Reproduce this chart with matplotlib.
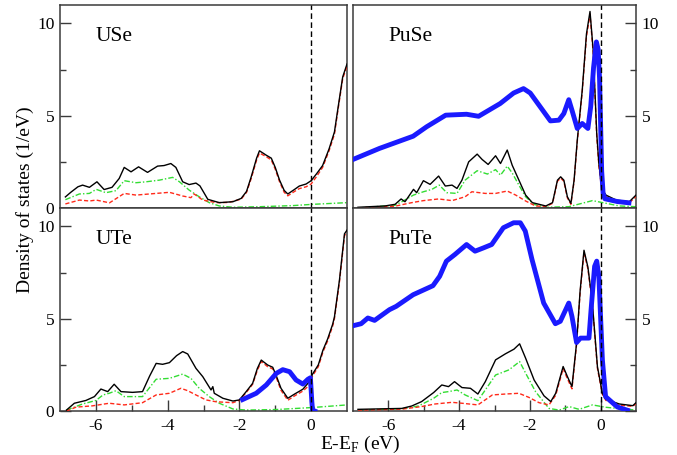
import matplotlib
matplotlib.use("Agg")
import matplotlib.pyplot as plt

plt.rcParams['font.family'] = ['Liberation Serif', 'DejaVu Serif']
plt.rcParams['mathtext.fontset'] = 'custom'
plt.rcParams['mathtext.rm'] = 'Liberation Serif'

# ---------------- data ----------------
x_ticks = [-6, -4, -2, 0]
x_tick_labels = ["-6", "-4", "-2", "0"]
x_minor = [-5, -3, -1]
y_ticks = [0, 5, 10]
y_tick_labels = ["0", "5", "10"]
y_minor = [2.5, 7.5]

# USe
use_tot_e = [-6.85, -6.7, -6.5, -6.37, -6.18, -5.97, -5.77, -5.55, -5.35, -5.21, -5.02, -4.81, -4.56, -4.28, -4.1, -3.91, -3.77, -3.58, -3.4, -3.21, -3.1, -2.88, -2.56, -2.18, -1.95, -1.8, -1.67, -1.52, -1.44, -1.25, -1.11, -1.0, -0.88, -0.75, -0.65, -0.46, -0.33, -0.14, 0.0, 0.15, 0.32, 0.5, 0.65, 0.74, 0.88, 1.0]
use_tot = [0.6, 0.85, 1.15, 1.24, 1.12, 1.42, 1.0, 1.12, 1.6, 2.2, 1.96, 2.23, 1.93, 2.27, 2.3, 2.41, 2.2, 1.42, 1.27, 1.35, 1.2, 0.47, 0.29, 0.34, 0.52, 0.9, 1.69, 2.7, 3.1, 2.86, 2.7, 2.2, 1.51, 0.95, 0.76, 1.01, 1.19, 1.3, 1.48, 1.85, 2.3, 3.2, 4.12, 5.3, 7.1, 7.8]
use_f_e = [-6.85, -6.46, -6.18, -5.99, -5.62, -5.21, -4.88, -4.51, -3.95, -3.58, -3.35, -3.26, -3.02, -2.65, -2.3, -1.95, -1.8, -1.67, -1.52, -1.44, -1.25, -1.11, -1.0, -0.88, -0.75, -0.65, -0.46, -0.33, -0.14, 0.0, 0.15, 0.32, 0.5, 0.65, 0.74, 0.88, 1.0]
use_f = [0.22, 0.43, 0.38, 0.43, 0.28, 0.79, 0.7, 0.76, 0.85, 0.65, 0.56, 0.76, 0.43, 0.29, 0.3, 0.48, 0.85, 1.6, 2.6, 2.98, 2.78, 2.6, 2.1, 1.42, 0.85, 0.66, 0.9, 1.05, 1.15, 1.3, 1.7, 2.2, 3.1, 4.0, 5.2, 7.0, 7.7]
use_p_e = [-6.85, -6.46, -6.18, -5.99, -5.72, -5.44, -5.21, -4.88, -4.6, -4.23, -3.86, -3.67, -3.4, -3.12, -2.84, -2.56, -2.18, -1.44, -0.51, 0.05, 1.0]
use_p = [0.45, 0.76, 0.79, 1.01, 0.83, 0.94, 1.48, 1.37, 1.42, 1.51, 1.66, 1.42, 0.97, 0.61, 0.29, 0.11, 0.04, 0.07, 0.13, 0.2, 0.29]

# UTe
ute_tot_e = [-6.82, -6.6, -6.28, -6.04, -5.86, -5.67, -5.49, -5.3, -4.98, -4.7, -4.5, -4.32, -4.14, -3.95, -3.75, -3.58, -3.44, -3.21, -3.02, -2.79, -2.74, -2.7, -2.46, -2.18, -2.0, -1.81, -1.63, -1.5, -1.39, -1.21, -1.07, -0.95, -0.84, -0.65, -0.46, -0.23, -0.05, 0.04, 0.2, 0.33, 0.46, 0.6, 0.65, 0.79, 0.93, 1.0]
ute_tot = [0.05, 0.42, 0.57, 0.78, 1.19, 1.05, 1.45, 1.05, 1.01, 1.05, 1.9, 2.58, 2.53, 2.62, 3.0, 3.22, 3.09, 2.31, 1.86, 1.14, 1.32, 0.96, 0.69, 0.54, 0.6, 1.05, 1.5, 2.3, 2.76, 2.49, 2.37, 1.8, 1.23, 0.69, 0.92, 1.18, 1.59, 2.0, 2.5, 3.3, 3.9, 4.7, 5.1, 7.1, 9.6, 9.8]
ute_f_e = [-6.82, -6.55, -6.09, -5.63, -5.21, -4.7, -4.32, -3.95, -3.63, -3.44, -3.21, -2.93, -2.65, -2.18, -2.0, -1.81, -1.63, -1.5, -1.39, -1.21, -1.07, -0.95, -0.84, -0.65, -0.46, -0.23, -0.05, 0.04, 0.2, 0.33, 0.46, 0.6, 0.65, 0.79, 0.93, 1.0]
ute_f = [0.0, 0.21, 0.28, 0.42, 0.33, 0.45, 0.87, 0.96, 1.23, 1.1, 0.87, 0.6, 0.5, 0.45, 0.58, 1.0, 1.45, 2.2, 2.68, 2.4, 2.28, 1.7, 1.12, 0.58, 0.82, 1.08, 1.4, 1.9, 2.4, 3.2, 3.8, 4.6, 5.0, 7.0, 9.5, 9.7]
ute_p_e = [-6.82, -6.37, -6.0, -5.8, -5.63, -5.44, -5.21, -4.7, -4.32, -3.95, -3.58, -3.35, -3.12, -2.84, -2.56, -2.18, -1.81, -0.97, 0.05, 1.0]
ute_p = [0.05, 0.38, 0.57, 0.87, 0.96, 1.1, 0.78, 0.78, 1.72, 1.77, 2.0, 1.77, 1.23, 0.78, 0.42, 0.11, 0.05, 0.08, 0.19, 0.33]
ute_exp_e = [-1.91, -1.53, -1.25, -0.97, -0.79, -0.6, -0.42, -0.23, -0.09, -0.02, 0.02, 0.04, 0.1]
ute_exp = [0.62, 0.96, 1.41, 2.04, 2.24, 2.13, 1.68, 1.46, 1.72, 1.8, 0.5, 0.05, 0.0]

# PuSe
puse_tot_e = [-6.86, -6.1, -5.81, -5.64, -5.53, -5.29, -5.2, -5.01, -4.82, -4.58, -4.39, -4.2, -4.06, -3.92, -3.73, -3.49, -3.35, -3.18, -2.97, -2.83, -2.64, -2.5, -2.31, -2.12, -1.93, -1.55, -1.36, -1.22, -1.13, -1.04, -0.94, -0.84, -0.75, -0.66, -0.52, -0.4, -0.3, -0.21, -0.11, -0.05, 0.0, 0.06, 0.15, 0.44, 0.81, 1.0]
puse_tot = [0.04, 0.11, 0.2, 0.49, 0.34, 1.01, 0.83, 1.48, 1.28, 1.73, 1.19, 1.24, 1.06, 1.51, 2.5, 2.92, 2.63, 2.36, 2.83, 2.41, 3.14, 2.32, 1.51, 0.7, 0.29, 0.11, 0.29, 1.51, 1.69, 1.51, 0.61, 0.25, 1.51, 3.68, 6.38, 9.44, 10.65, 8.54, 4.04, 2.41, 1.6, 0.97, 0.7, 0.43, 0.34, 0.7]
puse_f_e = [-6.86, -5.81, -5.34, -5.01, -4.58, -4.2, -3.83, -3.64, -3.26, -2.97, -2.64, -2.4, -2.12, -1.84, -1.55, -1.36, -1.22, -1.13, -1.04, -0.94, -0.84, -0.75, -0.66, -0.52, -0.4, -0.3, -0.21, -0.11, -0.05, 0.0, 0.06, 0.15, 0.44, 0.81, 1.0]
puse_f = [0.0, 0.1, 0.29, 0.4, 0.49, 0.4, 0.61, 0.88, 0.79, 0.79, 0.92, 0.7, 0.38, 0.11, 0.08, 0.25, 1.45, 1.62, 1.45, 0.55, 0.2, 1.45, 3.6, 6.3, 9.3, 10.5, 8.4, 3.9, 2.3, 1.5, 0.9, 0.62, 0.36, 0.28, 0.62]
puse_p_e = [-6.86, -5.81, -5.62, -5.29, -5.01, -4.77, -4.56, -4.35, -4.06, -3.83, -3.49, -3.2, -2.97, -2.83, -2.64, -2.5, -2.31, -2.12, -1.89, -1.55, -0.9, -0.23, 0.06, 0.53, 1.0]
puse_p = [0.0, 0.15, 0.34, 0.7, 0.88, 1.01, 1.24, 0.83, 0.79, 1.51, 2.02, 1.84, 2.08, 1.78, 2.27, 1.9, 1.24, 0.61, 0.2, 0.04, 0.07, 0.4, 0.29, 0.11, 0.07]
puse_exp_e = [-7.0, -6.25, -5.3, -4.92, -4.38, -3.79, -3.45, -2.84, -2.46, -2.18, -1.99, -1.42, -1.18, -1.04, -0.9, -0.81, -0.66, -0.52, -0.36, -0.28, -0.2, -0.12, -0.07, -0.03, 0.03, 0.07, 0.12, 0.47, 0.8]
puse_exp = [2.63, 3.23, 3.89, 4.4, 5.03, 5.08, 4.97, 5.66, 6.23, 6.47, 6.23, 4.72, 4.76, 5.12, 5.87, 5.3, 4.31, 4.58, 4.31, 5.5, 7.6, 9.0, 8.6, 7.0, 2.0, 0.8, 0.5, 0.35, 0.28]

# PuTe
pute_tot_e = [-6.86, -5.62, -5.34, -5.06, -4.72, -4.49, -4.3, -4.13, -3.92, -3.68, -3.47, -3.26, -2.97, -2.69, -2.45, -2.29, -2.12, -1.88, -1.6, -1.41, -1.27, -1.06, -0.94, -0.81, -0.68, -0.58, -0.47, -0.36, -0.24, -0.09, 0.05, 0.15, 0.53, 0.91, 1.0]
pute_tot = [0.09, 0.14, 0.27, 0.51, 1.0, 1.41, 1.32, 1.59, 1.27, 1.23, 0.92, 1.59, 2.77, 3.1, 3.35, 3.64, 2.86, 1.68, 0.82, 0.51, 0.96, 2.41, 1.87, 1.32, 3.68, 6.5, 8.71, 7.8, 6.0, 2.4, 0.96, 0.63, 0.38, 0.29, 0.45]
pute_f_e = [-6.86, -5.62, -5.06, -4.68, -4.2, -3.92, -3.47, -3.06, -2.69, -2.31, -2.03, -1.74, -1.46, -1.27, -1.06, -0.94, -0.81, -0.68, -0.58, -0.47, -0.36, -0.24, -0.09, 0.05, 0.15, 0.53, 0.91, 1.0]
pute_f = [0.05, 0.1, 0.24, 0.38, 0.47, 0.42, 0.33, 0.87, 0.92, 0.96, 0.74, 0.45, 0.33, 0.85, 2.3, 1.75, 1.2, 3.6, 6.4, 8.6, 7.7, 5.9, 2.3, 0.9, 0.57, 0.32, 0.25, 0.4]
pute_p_e = [-6.86, -5.62, -5.15, -4.72, -4.49, -4.3, -4.06, -3.83, -3.47, -3.26, -2.97, -2.59, -2.29, -2.12, -1.84, -1.46, -1.17, -0.89, -0.61, -0.23, 0.15, 1.0]
pute_p = [0.05, 0.12, 0.27, 0.69, 1.0, 1.05, 1.14, 0.87, 0.56, 1.14, 1.95, 2.23, 2.68, 2.05, 1.05, 0.14, 0.05, 0.24, 0.09, 0.33, 0.2, 0.05]
pute_exp_e = [-7.0, -6.77, -6.58, -6.39, -5.97, -5.78, -5.3, -4.74, -4.55, -4.36, -4.12, -3.79, -3.55, -3.31, -3.08, -2.75, -2.46, -2.27, -2.13, -1.94, -1.61, -1.28, -1.14, -0.9, -0.81, -0.68, -0.57, -0.33, -0.27, -0.17, -0.11, -0.05, 0.05, 0.14, 0.47, 0.76]
pute_exp = [4.62, 4.73, 5.04, 4.91, 5.49, 5.67, 6.3, 6.79, 7.3, 8.12, 8.48, 9.02, 8.66, 8.84, 9.02, 9.93, 10.2, 10.2, 9.75, 8.21, 5.85, 4.73, 4.86, 5.85, 5.12, 3.71, 3.95, 3.95, 5.49, 7.84, 8.12, 7.3, 2.77, 0.78, 0.22, 0.04]

panels = [
    ("USe", (use_tot_e, use_tot), (use_f_e, use_f), (use_p_e, use_p), None),
    ("PuSe", (puse_tot_e, puse_tot), (puse_f_e, puse_f), (puse_p_e, puse_p), (puse_exp_e, puse_exp)),
    ("UTe", (ute_tot_e, ute_tot), (ute_f_e, ute_f), (ute_p_e, ute_p), (ute_exp_e, ute_exp)),
    ("PuTe", (pute_tot_e, pute_tot), (pute_f_e, pute_f), (pute_p_e, pute_p), (pute_exp_e, pute_exp)),
]

# ---------------- layout ----------------
W, H = 677, 455
fig = plt.figure(figsize=(W / 100, H / 100), dpi=100)

def box(x0, x1, y0, y1):
    return [x0 / W, 1 - y1 / H, (x1 - x0) / W, (y1 - y0) / H]

rects = [box(60, 347, 5, 208), box(353, 636, 5, 208),
         box(60, 347, 208, 411), box(353, 636, 208, 411)]

frame_col = "#3a3a3a"
for i, (name, tot, fpart, ppart, exp) in enumerate(panels):
    ax = fig.add_axes(rects[i])
    right = (i % 2 == 1)
    bottom = (i >= 2)

    ax.plot(*ppart, color="#33dd33", lw=1.0, ls=(0, (4, 1.5, 1, 1.5)), zorder=2)
    ax.plot(*fpart, color="#ff2a1a", lw=1.0, ls=(0, (3, 1.6)), zorder=3)
    ax.plot(*tot, color="black", lw=1.0, zorder=4)
    if exp is not None:
        ax.plot(*exp, color="#1a1aff", lw=3.5, zorder=5, solid_joinstyle="round")
    ax.axvline(0, color="black", lw=1.0, ls=(0, (4, 2.5)), zorder=6)

    ax.set_xlim(-7, 1)
    ax.set_ylim(0, 11)
    ax.text(-6.0, 9.3, name, fontsize=15.5, va="center", ha="left")

    for s in ax.spines.values():
        s.set_color(frame_col)
        s.set_linewidth(1.1)

    ax.set_yticks(y_ticks)
    ax.set_yticks(y_minor, minor=True)
    if right:
        ax.yaxis.tick_right()
        ax.set_yticklabels(["", "5", "10"])
    else:
        ax.set_yticklabels(y_tick_labels)
    ax.tick_params(axis="y", which="major", direction="in", length=8, width=1.0,
                   color=frame_col, labelsize=12.5, pad=4)
    ax.tick_params(axis="y", which="minor", direction="in", length=4.5, width=1.0,
                   color=frame_col)

    if bottom:
        ax.set_xticks(x_ticks)
        ax.set_xticklabels(x_tick_labels)
        ax.set_xticks(x_minor, minor=True)
        ax.tick_params(axis="x", which="major", direction="in", length=8, width=1.0,
                       color=frame_col, labelsize=12.5, pad=5)
        ax.tick_params(axis="x", which="minor", direction="in", length=4.5, width=1.0,
                       color=frame_col)
    else:
        ax.set_xticks([])

fig.text(25 / W, 1 - 200 / H, "Density of states (1/eV)", rotation=90,
         ha="center", va="center", fontsize=14)
fig.text(360 / W, 1 - 444 / H, r"E-E$_\mathregular{F}$ (eV)",
         ha="center", va="center", fontsize=14)

fig.savefig("out.png", dpi=100)
